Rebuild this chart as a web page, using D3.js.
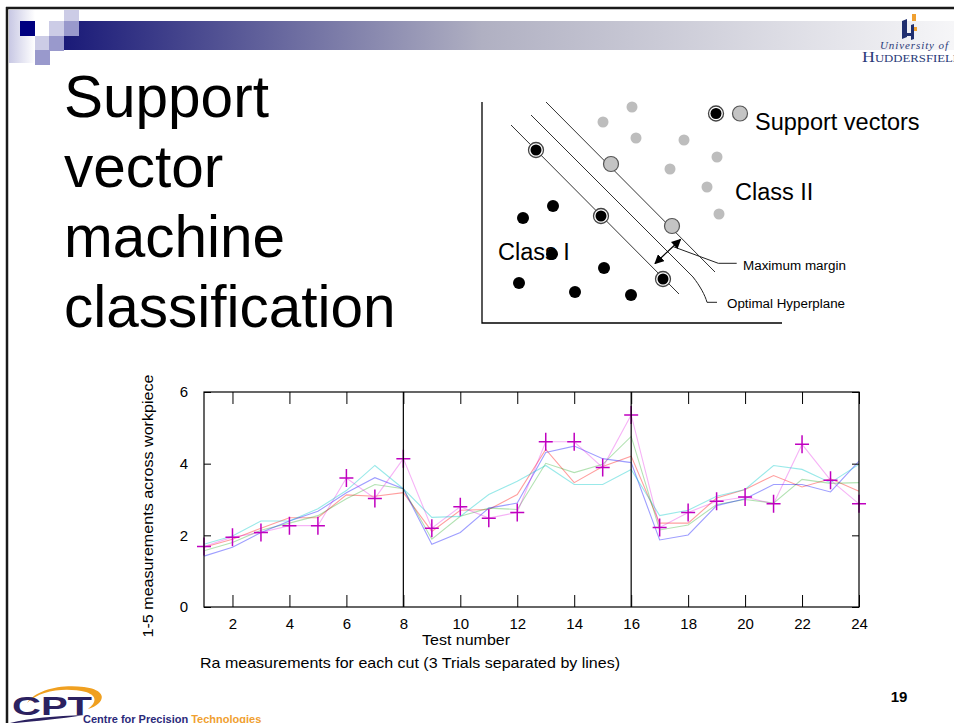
<!DOCTYPE html>
<html>
<head>
<meta charset="utf-8">
<script src="https://cdn.jsdelivr.net/npm/d3@7"></script>
<style>
  html, body { margin: 0; padding: 0; background: #fff; }
  svg { display: block; font-family: "Liberation Sans", Arial, Helvetica, sans-serif; }
</style>
</head>
<body>
<svg id="slide" width="954" height="723"></svg>
<script>
// Ra roughness per cut: 24 tests, 3 trials of 8 cuts, five measurement positions
const testNumbers = [1,2,3,4,5,6,7,8,9,10,11,12,13,14,15,16,17,18,19,20,21,22,23,24];
const posRed     = [1.67,1.89,2.20,2.49,2.49,3.13,3.09,3.19, 2.11,2.70,2.72,3.14,4.40,3.47,3.92,4.21, 2.34,2.34,3.04,3.28,3.67,3.35,3.58,3.23];
const posGreen   = [1.57,1.80,2.14,2.34,2.55,3.02,3.42,3.30, 1.89,2.53,2.76,2.72,4.01,3.75,3.98,4.76, 2.15,2.29,2.86,3.00,2.90,3.56,3.45,3.47];
const posBlue    = [1.42,1.67,2.08,2.40,2.67,3.19,3.61,3.30, 1.75,2.08,2.76,2.90,4.31,4.49,4.14,4.03, 1.87,2.01,2.83,3.02,3.42,3.42,3.21,4.07];
const posMagenta = [1.69,1.95,2.08,2.27,2.27,3.60,3.03,4.14, 2.20,2.80,2.48,2.64,4.61,4.61,3.89,5.36, 2.22,2.64,2.95,3.07,2.88,4.54,3.54,2.88];
const posCyan    = [1.75,1.98,2.40,2.40,2.74,3.25,3.95,3.30, 2.50,2.53,3.14,3.51,3.95,3.42,3.42,3.84, 2.55,2.70,3.09,3.28,3.95,3.84,3.47,3.98];
const xTickValues = [2,4,6,8,10,12,14,16,18,20,22,24];
const yTickValues = [0,2,4,6];
const trialBreaks = [8,16];

// SVM illustration: two classes in a 300 x 221 feature plane
const classOne   = [[71,117],[41,105],[70,69],[122,55],[37,40],[93,31],[149,28]];
const classOneSV = [[54,173],[119,107],[181,44]];
const classTwo   = [[150,216],[121,201],[154,185],[202,183],[235,166],[188,154],[225,136],[237,109]];
const classTwoSV = [[129,159],[190,97]];
const marginLow  = [[29,198],[197,29]];
const hyperplane = [[49,208],[211,46]];
const marginHigh = [[64,221],[233,51]];

const svg = d3.select("#slide");

/* ---------- slide furniture ---------- */
const defs = svg.append("defs");
const barGrad = defs.append("linearGradient").attr("id", "barGrad");
barGrad.append("stop").attr("offset", "0%").attr("stop-color", "#1a1a78");
barGrad.append("stop").attr("offset", "47%").attr("stop-color", "#b0b0c2");
barGrad.append("stop").attr("offset", "100%").attr("stop-color", "#f6f6f8");
const fadeGrad = defs.append("linearGradient").attr("id", "fadeGrad");
fadeGrad.append("stop").attr("offset", "0%").attr("stop-color", "#c8c8e4");
fadeGrad.append("stop").attr("offset", "100%").attr("stop-color", "#ffffff");

svg.append("rect").attr("x", 9).attr("y", 10).attr("width", 26).attr("height", 53).attr("fill", "url(#fadeGrad)");
svg.append("rect").attr("x", 64).attr("y", 21).attr("width", 890).attr("height", 29).attr("fill", "url(#barGrad)");
const squares = [
  [20,21,"#000080"],[64,10,"#ccccE6",11],[49,21,"#ccccE6"],[64,21,"#9999cc"],
  [35,36,"#ccccE6"],[49,36,"#9999cc"],[35,50,"#9999cc"]
];
squares.forEach(s => svg.append("rect").attr("x", s[0]).attr("y", s[1])
  .attr("width", 15).attr("height", s[3] || 15).attr("fill", s[2]));

// slide border
svg.append("line").attr("x1", 6).attr("x2", 954).attr("y1", 8).attr("y2", 8).attr("stroke", "#1a1a1a").attr("stroke-width", 2.5);
svg.append("line").attr("x1", 7).attr("x2", 7).attr("y1", 7).attr("y2", 723).attr("stroke", "#1a1a1a").attr("stroke-width", 2.5);

// university logo
const uni = svg.append("g");
uni.append("path").attr("d", "M902,21 L907,19 L907,33 L911,33 L911,25 L914,24 L914,39 L911,40 L911,36 L907,36 L907,37 L902,39 Z").attr("fill", "#1f2e6e");
uni.append("rect").attr("x", 912).attr("y", 14).attr("width", 4).attr("height", 7).attr("fill", "#f0a030");
uni.append("rect").attr("x", 914).attr("y", 27).attr("width", 3).attr("height", 4).attr("fill", "#f0a030");
uni.append("text").attr("x", 880).attr("y", 49).attr("font-family", "'Liberation Serif', serif")
  .attr("font-style", "italic").attr("font-size", 11).attr("fill", "#2a3a78").attr("textLength", 68).text("University of");
uni.append("text").attr("x", 862).attr("y", 62).attr("font-family", "'Liberation Serif', serif")
  .attr("font-size", 14).attr("font-variant", "small-caps").attr("fill", "#2a3a78")
  .attr("textLength", 100).attr("lengthAdjust", "spacingAndGlyphs").text("Huddersfield");

// title
const title = ["Support", "vector", "machine", "classification"];
svg.append("g").selectAll("text").data(title).join("text")
  .attr("x", 64).attr("y", (d, i) => 117 + i * 70)
  .attr("font-size", 58.5).attr("fill", "#000").text(d => d);

// page number
svg.append("text").attr("x", 899).attr("y", 702).attr("text-anchor", "middle")
  .attr("font-size", 15).attr("font-weight", "bold").text("19");

// CPT logo
const cpt = svg.append("g");
cpt.append("path").attr("d", "M27,703 C36,690 60,684 84,687 C100,689 106,696 99,703 C96,706 92,708 88,709 C96,703 98,696 86,692 C66,687 40,690 27,703 Z").attr("fill", "#f0a020");
cpt.append("text").attr("x", 12).attr("y", 715).attr("font-size", 25).attr("font-weight", "bold")
  .attr("fill", "#2b2160").attr("textLength", 80).attr("lengthAdjust", "spacingAndGlyphs").text("CPT");
cpt.append("path").attr("d", "M10,723 C30,718 55,716 84,715 C60,719 35,721 16,723 Z").attr("fill", "#2b2160");
const cptText = cpt.append("text").attr("x", 83).attr("y", 722.5).attr("font-size", 11).attr("font-weight", "bold");
cptText.append("tspan").attr("fill", "#2b2a7a").text("Centre for Precision ");
cptText.append("tspan").attr("fill", "#f0a030").text("Technologies");

/* ---------- SVM illustration ---------- */
const sx = d3.scaleLinear().domain([0, 300]).range([482, 782]);
const sy = d3.scaleLinear().domain([0, 221]).range([323, 102]);
const svm = svg.append("g");
svm.append("path").attr("d", `M${sx(0)},${sy(221)} L${sx(0)},${sy(0)} L${sx(300)},${sy(0)}`)
  .attr("fill", "none").attr("stroke", "#000").attr("stroke-width", 1.3);

// margin lines and hyperplane
svm.selectAll("line.plane").data([marginLow, hyperplane, marginHigh]).join("line").attr("class", "plane")
  .attr("x1", d => sx(d[0][0])).attr("y1", d => sy(d[0][1])).attr("x2", d => sx(d[1][0])).attr("y2", d => sy(d[1][1]))
  .attr("stroke", "#333").attr("stroke-width", 1);

const hpEnd = [sx(hyperplane[1][0]), sy(hyperplane[1][1])];
svm.append("path").attr("d", `M${hpEnd[0]},${hpEnd[1]} C${hpEnd[0] + 7},${hpEnd[1] + 9} ${hpEnd[0] + 12},${hpEnd[1] + 18} ${hpEnd[0] + 14},302.3 L717,302.3`)
  .attr("fill", "none").attr("stroke", "#222").attr("stroke-width", 1);
svm.append("path").attr("d", "M673.3,246.7 L718.3,263.3 L736.7,263.3")
  .attr("fill", "none").attr("stroke", "#222").attr("stroke-width", 1);

defs.append("marker").attr("id", "arrowHead").attr("viewBox", "0 0 10 10").attr("refX", 9).attr("refY", 5)
  .attr("markerWidth", 8).attr("markerHeight", 8).attr("orient", "auto-start-reverse")
  .append("path").attr("d", "M0,0 L10,5 L0,10 Z").attr("fill", "#000");
svm.append("line").attr("x1", 655).attr("y1", 263.5).attr("x2", 680.5).attr("y2", 239.5)
  .attr("stroke", "#000").attr("stroke-width", 1.2)
  .attr("marker-start", "url(#arrowHead)").attr("marker-end", "url(#arrowHead)");

svm.append("text").attr("x", 498).attr("y", 260).attr("font-size", 23.5).text("Class I");
svm.append("text").attr("x", 735).attr("y", 200).attr("font-size", 23.5).text("Class II");
svm.append("text").attr("x", 755).attr("y", 130).attr("font-size", 23.5).text("Support vectors");
svm.append("text").attr("x", 743).attr("y", 270).attr("font-size", 12.5)
  .attr("textLength", 103).attr("lengthAdjust", "spacingAndGlyphs").text("Maximum margin");
svm.append("text").attr("x", 727).attr("y", 308).attr("font-size", 12.5)
  .attr("textLength", 118).attr("lengthAdjust", "spacingAndGlyphs").text("Optimal Hyperplane");

svm.selectAll("circle.c2").data(classTwo).join("circle").attr("class", "c2")
  .attr("cx", d => sx(d[0])).attr("cy", d => sy(d[1])).attr("r", 5.5).attr("fill", "#bdbdbd");
svm.selectAll("circle.c1").data(classOne).join("circle").attr("class", "c1")
  .attr("cx", d => sx(d[0])).attr("cy", d => sy(d[1])).attr("r", 6).attr("fill", "#000");

function blackSV(g, cx, cy) {
  g.append("circle").attr("cx", cx).attr("cy", cy).attr("r", 7.5).attr("fill", "#fff").attr("stroke", "#444").attr("stroke-width", 1.3);
  g.append("circle").attr("cx", cx).attr("cy", cy).attr("r", 5.5).attr("fill", "#000");
}
function greySV(g, cx, cy) {
  g.append("circle").attr("cx", cx).attr("cy", cy).attr("r", 7.5).attr("fill", "#c4c4c4").attr("stroke", "#555").attr("stroke-width", 1.2);
}
classOneSV.forEach(d => blackSV(svm, sx(d[0]), sy(d[1])));
classTwoSV.forEach(d => greySV(svm, sx(d[0]), sy(d[1])));
blackSV(svm, 716, 113.5);
greySV(svm, 740, 113.5);

/* ---------- Ra measurement chart ---------- */
const x = d3.scaleLinear().domain([1, 24]).range([204, 859]);
const y = d3.scaleLinear().domain([0, 6]).range([607, 392]);
const chart = svg.append("g");

const series = [
  { values: posRed,     color: "#ff0000", op: 0.38 },
  { values: posGreen,   color: "#00a000", op: 0.3 },
  { values: posBlue,    color: "#0000ff", op: 0.38 },
  { values: posMagenta, color: "#e000e0", op: 0.3 },
  { values: posCyan,    color: "#00c8c8", op: 0.4 }
];
const line = d3.line().x((d, i) => x(testNumbers[i])).y(d => y(d));
chart.selectAll("path.series").data(series).join("path").attr("class", "series")
  .attr("d", d => line(d.values)).attr("fill", "none")
  .attr("stroke", d => d.color).attr("stroke-opacity", d => d.op).attr("stroke-width", 1.1);

// magenta point markers
chart.append("g").selectAll("path.cross").data(posMagenta).join("path").attr("class", "cross")
  .attr("d", (d, i) => {
    const cx = x(testNumbers[i]), cy = y(d);
    return `M${cx - 7},${cy} L${cx + 7},${cy} M${cx},${cy - 9} L${cx},${cy + 9}`;
  })
  .attr("stroke", "#c000c0").attr("stroke-width", 1.5).attr("fill", "none");

// frame and ticks
function styleAxis(g) {
  g.select(".domain").remove();
  g.selectAll(".tick line").attr("stroke", "#000").attr("stroke-width", 1);
  g.selectAll("text").attr("font-family", "'Liberation Sans', Arial, sans-serif").attr("font-size", 15).attr("fill", "#000");
}
chart.append("g").attr("transform", `translate(0,${y(0)})`)
  .call(d3.axisBottom(x).tickValues(xTickValues).tickSize(-12).tickPadding(11).tickFormat(d3.format("d")))
  .call(styleAxis);
chart.append("g").attr("transform", `translate(0,${y(6)})`)
  .call(d3.axisTop(x).tickValues(xTickValues).tickSize(-12).tickFormat(""))
  .call(styleAxis);
chart.append("g").attr("transform", `translate(${x(1)},0)`)
  .call(d3.axisLeft(y).tickValues(yTickValues).tickSize(-7).tickPadding(16).tickFormat(d3.format("d")))
  .call(styleAxis);
chart.append("g").attr("transform", `translate(${x(24)},0)`)
  .call(d3.axisRight(y).tickValues(yTickValues).tickSize(-7).tickFormat(""))
  .call(styleAxis);

chart.selectAll("line.break").data(trialBreaks).join("line").attr("class", "break")
  .attr("x1", d => x(d)).attr("x2", d => x(d)).attr("y1", y(0)).attr("y2", y(6))
  .attr("stroke", "#000").attr("stroke-width", 1.2);
chart.append("rect").attr("x", x(1)).attr("y", y(6)).attr("width", x(24) - x(1)).attr("height", y(0) - y(6))
  .attr("fill", "none").attr("stroke", "#000").attr("stroke-width", 1.2);

chart.append("text").attr("x", 466).attr("y", 645).attr("text-anchor", "middle").attr("font-size", 15)
  .attr("textLength", 88).attr("lengthAdjust", "spacingAndGlyphs").text("Test number");
chart.append("text").attr("transform", "translate(153,506) rotate(-90)").attr("text-anchor", "middle")
  .attr("font-size", 15).attr("textLength", 263).attr("lengthAdjust", "spacingAndGlyphs")
  .text("1-5 measurements across workpiece");
chart.append("text").attr("x", 200).attr("y", 668).attr("font-size", 15)
  .attr("textLength", 420).attr("lengthAdjust", "spacingAndGlyphs")
  .text("Ra measurements for each cut (3 Trials separated by lines)");
</script>
</body>
</html>
